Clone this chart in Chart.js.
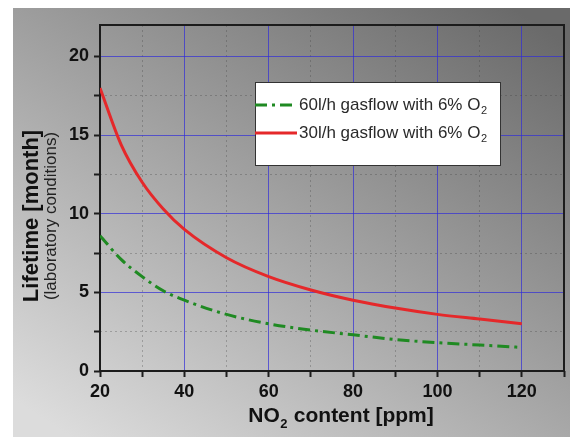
<!DOCTYPE html>
<html>
<head>
<meta charset="utf-8">
<script src="https://cdn.jsdelivr.net/npm/chart.js@4.4.0/dist/chart.umd.min.js"></script>
<style>
  html, body { margin: 0; padding: 0; background: #fff; }
  #wrap { width: 574px; height: 437px; }
</style>
</head>
<body>
<div id="wrap"><canvas id="chart" width="574" height="437"></canvas></div>
<script>
// Данные
const no2 = [20, 25, 30, 35, 40, 50, 60, 70, 80, 90, 100, 110, 120];
const flow60 = [8.6, 7.1, 6.0, 5.1, 4.5, 3.6, 3.0, 2.6, 2.3, 2.0, 1.8, 1.65, 1.5];
const flow30 = [18.0, 14.4, 12.0, 10.3, 9.0, 7.2, 6.0, 5.15, 4.5, 4.0, 3.6, 3.3, 3.0];
const seriesLabels = ['60l/h gasflow with 6% O₂', '30l/h gasflow with 6% O₂'];

const xTicks = [20, 30, 40, 50, 60, 70, 80, 90, 100, 110, 120, 130];
const xMajor = [20, 40, 60, 80, 100, 120];
const yTicks = [0, 2.5, 5, 7.5, 10, 12.5, 15, 17.5, 20];
const yMajor = [0, 5, 10, 15, 20];

const FONT = "'Liberation Sans', Arial, sans-serif";
const MAJOR_GRID = 'rgba(50, 45, 215, 0.7)';
const MINOR_GRID = 'rgba(60, 60, 60, 0.3)';
const NONE = 'rgba(0,0,0,0)';

// Текст с нижним индексом "₂"
function drawRich(ctx, text, x, y, size, weight, align) {
  const parts = text.split('₂');
  const main = `${weight} ${size}px ${FONT}`;
  const sub = `${weight} ${Math.round(size * 0.62)}px ${FONT}`;
  let total = 0;
  parts.forEach((p, i) => {
    ctx.font = main;
    total += ctx.measureText(p).width;
    if (i < parts.length - 1) {
      ctx.font = sub;
      total += ctx.measureText('2').width + 1;
    }
  });
  let cx = align === 'center' ? x - total / 2 : x;
  ctx.textAlign = 'left';
  ctx.textBaseline = 'middle';
  parts.forEach((p, i) => {
    ctx.font = main;
    ctx.fillText(p, cx, y);
    cx += ctx.measureText(p).width;
    if (i < parts.length - 1) {
      ctx.font = sub;
      ctx.fillText('2', cx + 0.5, y + size * 0.38);
      cx += ctx.measureText('2').width + 1;
    }
  });
}

const background = {
  id: 'background',
  beforeDraw(chart) {
    const { ctx } = chart;
    ctx.save();
    ctx.fillStyle = '#fff';
    ctx.fillRect(0, 0, chart.width, chart.height);
    const g = ctx.createLinearGradient(454, -30, 128, 474);
    g.addColorStop(0, 'rgb(106,106,106)');
    g.addColorStop(1, 'rgb(220,220,220)');
    ctx.fillStyle = g;
    ctx.fillRect(13, 8, 557, 429);
    ctx.restore();
  },
};

const frame = {
  id: 'frame',
  beforeDatasetsDraw(chart) {
    const { ctx, chartArea: { left, top, width, height } } = chart;
    ctx.save();
    ctx.strokeStyle = '#1c1c1c';
    ctx.lineWidth = 2;
    ctx.strokeRect(left, top, width, height);
    ctx.restore();
  },
};

const titles = {
  id: 'titles',
  afterDraw(chart) {
    const { ctx, chartArea } = chart;
    const midY = 216;
    ctx.save();
    ctx.fillStyle = '#111';
    ctx.translate(32, midY);
    ctx.rotate(-Math.PI / 2);
    ctx.textAlign = 'center';
    ctx.textBaseline = 'middle';
    ctx.font = `bold 22px ${FONT}`;
    ctx.fillText('Lifetime [month]', 0, 0);
    ctx.restore();

    ctx.save();
    ctx.fillStyle = '#222';
    ctx.translate(51, midY);
    ctx.rotate(-Math.PI / 2);
    ctx.textAlign = 'center';
    ctx.textBaseline = 'middle';
    ctx.font = `17px ${FONT}`;
    ctx.fillText('(laboratory conditions)', 0, 0);
    ctx.restore();

    ctx.save();
    ctx.fillStyle = '#111';
    drawRich(ctx, 'NO₂ content [ppm]', (chartArea.left + chartArea.right) / 2 + 9, 416, 21, 'bold', 'center');
    ctx.restore();
  },
};

const legendBox = {
  id: 'legendBox',
  afterDatasetsDraw(chart) {
    const { ctx } = chart;
    const box = { x: 255, y: 82, w: 245, h: 83 };
    ctx.save();
    ctx.fillStyle = '#fff';
    ctx.fillRect(box.x, box.y, box.w, box.h);
    ctx.strokeStyle = '#333';
    ctx.lineWidth = 1;
    ctx.strokeRect(box.x + 0.5, box.y + 0.5, box.w, box.h);
    chart.data.datasets.forEach((ds, i) => {
      const y = 105 + i * 28;
      ctx.strokeStyle = ds.borderColor;
      ctx.lineWidth = ds.borderWidth;
      ctx.setLineDash(ds.borderDash || []);
      ctx.beginPath();
      ctx.moveTo(box.x, y);
      ctx.lineTo(box.x + 42, y);
      ctx.stroke();
      ctx.setLineDash([]);
      ctx.fillStyle = '#2a2a2a';
      drawRich(ctx, ds.label, 299, y, 17, 'normal', 'left');
    });
    ctx.restore();
  },
};

const chart = new Chart(document.getElementById('chart'), {
  type: 'line',
  data: {
    labels: no2,
    datasets: [
      {
        label: seriesLabels[0],
        data: no2.map((x, i) => ({ x, y: flow60[i] })),
        borderColor: '#1f8a22',
        borderWidth: 3,
        borderDash: [12, 5, 3, 5],
        pointRadius: 0,
        cubicInterpolationMode: 'monotone',
        fill: false,
      },
      {
        label: seriesLabels[1],
        data: no2.map((x, i) => ({ x, y: flow30[i] })),
        borderColor: '#e5282a',
        borderWidth: 3,
        pointRadius: 0,
        cubicInterpolationMode: 'monotone',
        fill: false,
      },
    ],
  },
  options: {
    responsive: false,
    animation: false,
    devicePixelRatio: 1,
    layout: { padding: { top: 25, right: 10, bottom: 0, left: 0 } },
    scales: {
      x: {
        type: 'linear',
        min: 20,
        max: 130,
        afterBuildTicks: (scale) => { scale.ticks = xTicks.map((v) => ({ value: v })); },
        afterFit: (scale) => { scale.height = 66; },
        border: { display: false, dash: (ctx) => (ctx.tick && !xMajor.includes(ctx.tick.value) ? [2, 3] : []) },
        grid: {
          color: (ctx) => {
            const v = ctx.tick.value;
            if (v === 20 || v === 130) return NONE;
            return xMajor.includes(v) ? MAJOR_GRID : MINOR_GRID;
          },
          lineWidth: 1,
          tickColor: '#1c1c1c',
          tickLength: 6,
          tickWidth: 2,
        },
        ticks: {
          autoSkip: false,
          maxRotation: 0,
          padding: 4,
          color: '#111',
          font: { family: FONT, size: 18, weight: 'bold' },
          callback: (v) => (xMajor.includes(v) ? String(v) : ''),
        },
      },
      y: {
        min: 0,
        max: 22,
        afterBuildTicks: (scale) => { scale.ticks = yTicks.map((v) => ({ value: v })); },
        afterFit: (scale) => { scale.width = 100; },
        border: { display: false, dash: (ctx) => (ctx.tick && !yMajor.includes(ctx.tick.value) ? [2, 3] : []) },
        grid: {
          color: (ctx) => {
            const v = ctx.tick.value;
            if (v === 0) return NONE;
            return yMajor.includes(v) ? MAJOR_GRID : MINOR_GRID;
          },
          lineWidth: 1,
          tickColor: '#1c1c1c',
          tickLength: 6,
          tickWidth: 2,
        },
        ticks: {
          autoSkip: false,
          padding: 5,
          color: '#111',
          font: { family: FONT, size: 18, weight: 'bold' },
          callback: (v) => (yMajor.includes(v) ? String(v) : ''),
        },
      },
    },
    plugins: {
      legend: { display: false },
      tooltip: { enabled: false },
    },
  },
  plugins: [background, frame, legendBox, titles],
});
</script>
</body>
</html>
